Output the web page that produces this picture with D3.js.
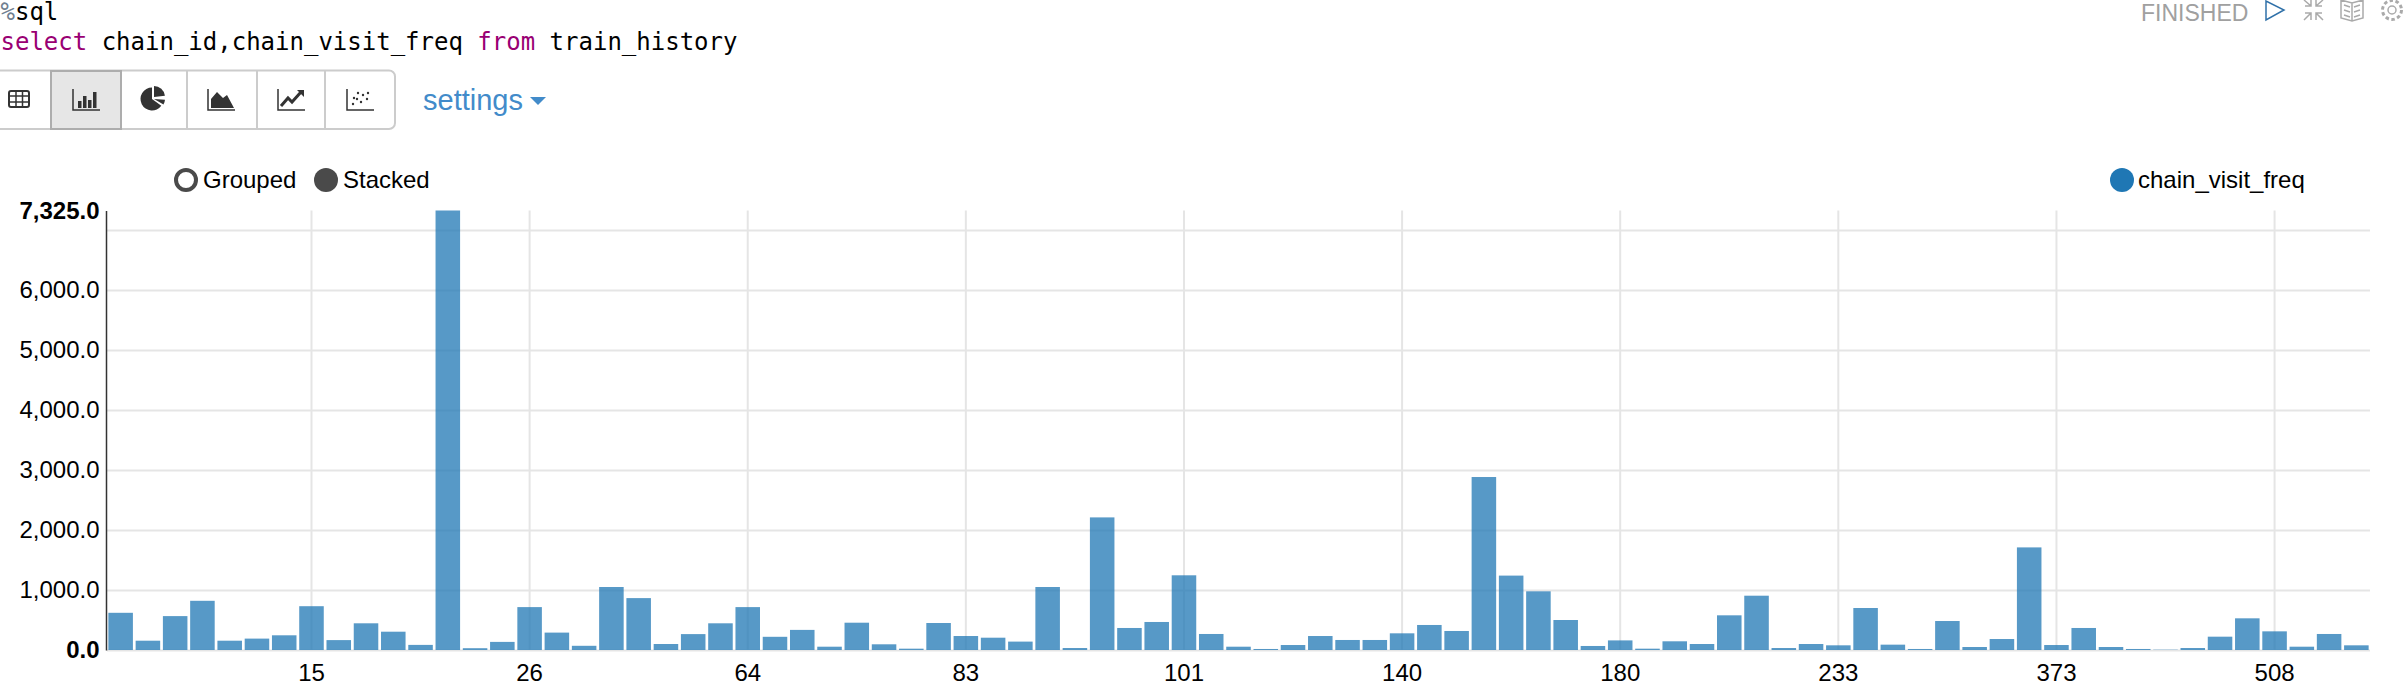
<!DOCTYPE html>
<html>
<head>
<meta charset="utf-8">
<script src="https://cdn.jsdelivr.net/npm/d3@7"></script>
<style>
html,body{margin:0;padding:0;background:#fff;overflow:hidden}
svg{display:block}
text{font-family:"Liberation Sans",Arial,sans-serif}
.mono{font-family:"DejaVu Sans Mono",monospace;font-size:24px}
</style>
</head>
<body>
<svg id="c" width="2406" height="690"></svg>
<script>
// --- Data ---
const seriesName = "chain_visit_freq";
const chainVisitFreq = [
 620,155,565,820,155,190,245,730,165,445,305,85,7325,30,135,715,290,70,1050,865,
 100,265,445,715,220,335,55,455,95,22,450,233,205,140,1050,33,2210,367,467,1245,
 267,55,17,83,233,167,167,278,417,317,2883,1240,978,500,67,160,22,145,100,578,
 905,33,100,78,700,89,17,483,50,183,1710,83,367,50,17,5,33,222,528,311,55,267,78];
const xTickLabels = ["15","26","64","83","101","140","180","233","373","508"];
const xTickPositions = [7,15,23,31,39,47,55,63,71,79];
const yTicks = [0,1000,2000,3000,4000,5000,6000,7000];
const yLabelled = [0,1000,2000,3000,4000,5000,6000,7325];
const yMax = 7325;

const svg = d3.select("#c");
const L=107, R=2370, T=210.5, B=650;
const x = d3.scaleBand().domain(d3.range(chainVisitFreq.length)).range([L,R]).paddingInner(0.1).paddingOuter(0.05);
const y = d3.scaleLinear().domain([0,yMax]).range([B,T]);
const GRID="#e5e5e5";

// grid
const gx = svg.append("g").attr("transform",`translate(0,${B})`)
  .call(d3.axisBottom(x).tickValues(xTickPositions).tickSize(-(B-T)).tickPadding(14)
    .tickFormat(i=>xTickLabels[xTickPositions.indexOf(i)]));
gx.select(".domain").remove();
gx.selectAll("line").attr("stroke",GRID).attr("stroke-width",2);
gx.selectAll("text").attr("font-size",24).attr("fill","#000").attr("font-family","Liberation Sans");

const gy = svg.append("g").attr("transform",`translate(${L},0)`)
  .call(d3.axisLeft(y).tickValues(yTicks).tickSize(-(R-L)).tickFormat(""));
gy.select(".domain").remove();
gy.selectAll("line").attr("stroke",GRID).attr("stroke-width",2);

// bars
svg.append("g").selectAll("rect").data(chainVisitFreq).join("rect")
  .attr("x",(d,i)=>x(i)).attr("width",x.bandwidth())
  .attr("y",d=>y(d)).attr("height",d=>B-y(d))
  .attr("fill","#1f77b4").attr("fill-opacity",0.75);

// y axis line + labels
const gl = svg.append("g").attr("transform",`translate(${L-1},0)`)
  .call(d3.axisLeft(y).tickValues(yLabelled).tickSize(0).tickPadding(6.5).tickFormat(d3.format(",.1f")));
gl.select(".domain").attr("stroke","#333").attr("stroke-width",1.5);
gl.selectAll("text").attr("font-size",24).attr("fill","#000").attr("font-family","Liberation Sans")
  .attr("font-weight",d=>(d===0||d===yMax)?"bold":"normal");

// code header
const t1 = svg.append("text").attr("class","mono").attr("x",0.5).attr("y",20);
t1.append("tspan").attr("fill","#708090").text("%");
t1.append("tspan").attr("fill","#000").text("sql");
const t2 = svg.append("text").attr("class","mono").attr("x",0.5).attr("y",50).attr("xml:space","preserve").style("white-space","pre");
[["select","#990073"],[" chain_id,chain_visit_freq ","#000"],["from","#990073"],[" train_history","#000"]]
  .forEach(([s,c])=>t2.append("tspan").attr("fill",c).text(s));

// toolbar
const tb = svg.append("g");
tb.append("rect").attr("x",-10).attr("y",70.5).attr("width",405).attr("height",58.5).attr("rx",6)
  .attr("fill","#fff").attr("stroke","#ccc").attr("stroke-width",2);
tb.append("rect").attr("x",51).attr("y",71).attr("width",70).attr("height",58)
  .attr("fill","#e6e6e6").attr("stroke","#adadad").attr("stroke-width",2);
[187,257,325].forEach(v=>tb.append("line").attr("x1",v).attr("x2",v).attr("y1",71).attr("y2",129).attr("stroke","#ccc").attr("stroke-width",2));
const IC="#333";
// table icon
const ti=tb.append("g").attr("transform","translate(9,91)");
ti.append("rect").attr("width",20).attr("height",16).attr("rx",2).attr("fill","none").attr("stroke",IC).attr("stroke-width",2);
[5,11].forEach(v=>ti.append("line").attr("x1",0).attr("x2",20).attr("y1",v).attr("y2",v).attr("stroke",IC).attr("stroke-width",1.5));
[7,13.5].forEach(v=>ti.append("line").attr("y1",0).attr("y2",16).attr("x1",v).attr("x2",v).attr("stroke",IC).attr("stroke-width",1.5));
// bar icon
const axesIcon=(cx)=>tb.append("path").attr("transform",`translate(${cx-14},89)`).attr("d","M1 0V21H28").attr("fill","none").attr("stroke",IC).attr("stroke-width",1.5);
axesIcon(86);
[[6,12],[11,7],[16,11],[21,3]].forEach(([a,h])=>tb.append("rect").attr("x",72+a).attr("y",89+h).attr("width",3.5).attr("height",19-h).attr("fill",IC));
// pie icon
const pie=tb.append("g").attr("transform","translate(152,99)");
const arc=d3.arc();
pie.append("path").attr("d",arc({innerRadius:0,outerRadius:11.5,startAngle:2.2,endAngle:6.283})).attr("fill",IC);
pie.append("path").attr("d",arc({innerRadius:0,outerRadius:11,startAngle:0,endAngle:1.45})).attr("transform","translate(2,-2)").attr("fill",IC);
pie.append("path").attr("d",arc({innerRadius:0,outerRadius:11,startAngle:1.65,endAngle:2.1})).attr("transform","translate(2,0)").attr("fill",IC);
// area icon
axesIcon(221);
tb.append("path").attr("transform","translate(207,89)").attr("d","M4 19V10L10 3L16 9L20 6L27 19Z").attr("fill",IC);
// line icon
axesIcon(291);
tb.append("path").attr("transform","translate(277,89)").attr("d","M4 17L11 9L15 13L24 3").attr("fill","none").attr("stroke",IC).attr("stroke-width",3);
tb.append("path").attr("transform","translate(277,89)").attr("d","M20 1H27V8Z").attr("fill",IC);
// scatter icon
axesIcon(360);
[[7,15],[11,10],[15,13],[17,6],[21,10],[22,4],[12,4],[8,9]].forEach(([a,b])=>tb.append("circle").attr("cx",346+a).attr("cy",89+b).attr("r",1.2).attr("fill",IC));

// settings
svg.append("text").attr("x",423).attr("y",110).attr("font-size",29).attr("fill","#428bca").text("settings");
svg.append("path").attr("d","M530 97H546L538 105Z").attr("fill","#428bca");

// legends
svg.append("circle").attr("cx",186).attr("cy",180).attr("r",10).attr("fill","#fff").attr("stroke","#4a4a4a").attr("stroke-width",4);
svg.append("text").attr("x",203).attr("y",188).attr("font-size",24).attr("fill","#000").text("Grouped");
svg.append("circle").attr("cx",326).attr("cy",180).attr("r",12).attr("fill","#4a4a4a");
svg.append("text").attr("x",343).attr("y",188).attr("font-size",24).attr("fill","#000").text("Stacked");
svg.append("circle").attr("cx",2122).attr("cy",180).attr("r",12).attr("fill","#1f77b4");
svg.append("text").attr("x",2138).attr("y",188).attr("font-size",24).attr("fill","#000").text(seriesName);

// top-right status
svg.append("text").attr("x",2141).attr("y",21).attr("font-size",23).attr("fill","#a0a0a0").text("FINISHED");
svg.append("path").attr("d","M2266 1V20L2284 10Z").attr("fill","none").attr("stroke","#3071a9").attr("stroke-width",1.5);
const G="#aaa";
svg.append("path").attr("fill","none").attr("stroke",G).attr("stroke-width",1.5)
  .attr("d","M2304 0L2311 6M2311 0V6H2305M2323 0L2316 6M2316 0V6H2322M2304 20L2311 13M2311 20V13H2305M2323 20L2316 13M2316 20V13H2322");
svg.append("path").attr("fill","none").attr("stroke",G).attr("stroke-width",1.5)
  .attr("d","M2341 0L2352 3L2363 0V18L2352 21L2341 18ZM2352 3V21M2344 5L2350 7M2344 10L2350 12M2344 15L2350 17M2354 7L2360 5M2354 12L2360 10M2354 17L2360 15");
svg.append("circle").attr("cx",2392).attr("cy",10).attr("r",4).attr("fill","none").attr("stroke",G).attr("stroke-width",1.5);
svg.append("circle").attr("cx",2392).attr("cy",10).attr("r",9.5).attr("fill","none").attr("stroke",G).attr("stroke-width",3).attr("stroke-dasharray","3.5 2.5");
</script>
</body>
</html>
